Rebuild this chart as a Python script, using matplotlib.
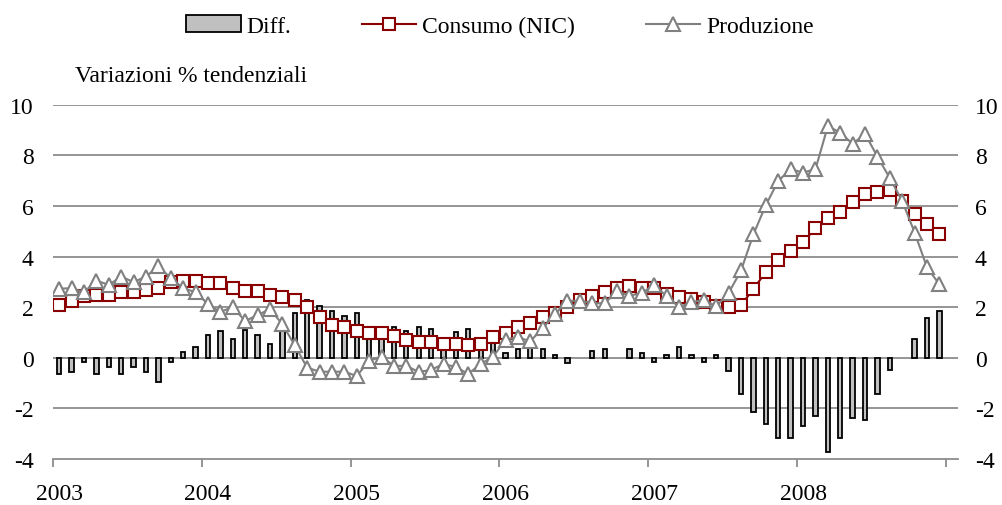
import numpy as np
import matplotlib.pyplot as plt
from matplotlib.patches import Patch
from matplotlib.lines import Line2D

plt.rcParams['font.family'] = ['Liberation Serif', 'DejaVu Serif']
plt.rcParams['axes.unicode_minus'] = False

years = ['2003', '2004', '2005', '2006', '2007', '2008']

# differenza consumo - produzione (barre)
diff = [-0.64, -0.56, -0.17, -0.64, -0.38, -0.64, -0.38, -0.56, -0.97, -0.17, 0.24, 0.41,
        0.89, 1.04, 0.74, 1.11, 0.89, 0.56, 1.04, 1.75, 2.30, 2.06, 1.84, 1.67,
        1.77, 1.08, 0.92, 1.20, 1.07, 1.23, 1.13, 0.80, 1.00, 1.13, 0.80, 0.77,
        0.18, 0.34, 0.38, 0.34, 0.12, -0.21, 0.00, 0.28, 0.34, 0.00, 0.34, 0.18,
        -0.15, 0.09, 0.41, 0.09, -0.15, 0.09, -0.54, -1.43, -2.14, -2.60, -3.17, -3.17,
        -2.70, -2.29, -3.72, -3.17, -2.37, -2.46, -1.43, -0.48, 0.00, 0.74, 1.57, 1.84]

consumo = [2.10, 2.25, 2.45, 2.50, 2.50, 2.60, 2.60, 2.67, 2.75, 3.00, 3.05, 3.05,
           2.95, 2.95, 2.75, 2.65, 2.65, 2.50, 2.40, 2.27, 2.02, 1.62, 1.28, 1.20,
           1.04, 0.96, 0.96, 0.88, 0.72, 0.64, 0.64, 0.56, 0.56, 0.50, 0.56, 0.81,
           0.96, 1.20, 1.36, 1.60, 1.76, 2.00, 2.30, 2.43, 2.60, 2.76, 2.83, 2.76,
           2.75, 2.52, 2.39, 2.32, 2.19, 2.05, 2.01, 2.08, 2.72, 3.39, 3.85, 4.23,
           4.56, 5.12, 5.52, 5.76, 6.15, 6.48, 6.56, 6.61, 6.19, 5.68, 5.29, 4.88]

produzione = [2.73, 2.75, 2.59, 3.05, 2.88, 3.21, 2.99, 3.21, 3.61, 3.15, 2.75, 2.59,
              2.12, 1.81, 2.01, 1.45, 1.69, 1.92, 1.33, 0.49, -0.39, -0.55, -0.55, -0.55,
              -0.72, -0.12, 0.04, -0.32, -0.32, -0.56, -0.48, -0.24, -0.37, -0.64, -0.24, 0.04,
              0.72, 0.81, 0.65, 1.17, 1.72, 2.25, 2.25, 2.16, 2.15, 2.64, 2.45, 2.56,
              2.88, 2.43, 2.01, 2.19, 2.29, 2.03, 2.56, 3.45, 4.88, 6.03, 6.99, 7.45,
              7.32, 7.45, 9.15, 8.90, 8.45, 8.85, 7.95, 7.10, 6.20, 4.95, 3.57, 2.90]

x = np.arange(len(consumo))
grey = '#8c8c8c'
red = '#8b0000'
tgrey = '#808080'
fs = 17

fig = plt.figure(figsize=(10.02, 5.06), dpi=100)
ax = fig.add_axes([53/1002, 1-460/506, 905/1002, (460-105.7)/506])

for yv in range(-2, 11, 2):
    ax.axhline(yv, color=grey, lw=1.3, zorder=0)

# bordo nullo per le barre a zero
bar_lw = [1.3 if v != 0 else 0 for v in diff]
ax.bar(x, diff, width=0.35, color='#c0c0c0', edgecolor='black', lw=bar_lw, zorder=2)
ax.plot(x, consumo, color=red, lw=1.5, marker='s', ms=8.5, mfc='white', mec=red, mew=1.5, zorder=3)
ax.plot(x, produzione, color=tgrey, lw=1.5, marker='^', ms=9.5, mfc='white', mec=tgrey, mew=1.5, zorder=4)

ax.set_xlim(-0.5, 72.5)
ax.set_ylim(-4, 10)
ax.set_yticks(range(-4, 11, 2))
ax.set_xticks(np.arange(-0.5, 72, 12))
ax.set_xticklabels([])
ax.set_xticks(np.arange(0, 72, 12), minor=True)
ax.set_xticklabels(years, minor=True)
ax.tick_params(axis='x', which='major', length=6, color=grey, width=1.3, direction='out')
ax.tick_params(axis='x', which='minor', length=0, pad=17, labelsize=fs)
ax.tick_params(axis='y', length=0, pad=14, labelsize=fs)

for s in ['top', 'left', 'right']:
    ax.spines[s].set_visible(False)
ax.spines['bottom'].set_color(grey)
ax.spines['bottom'].set_linewidth(1.3)

ax2 = ax.twinx()
ax2.set_ylim(-4, 10)
ax2.set_yticks(range(-4, 11, 2))
ax2.tick_params(axis='y', length=0, pad=12, labelsize=fs)
for s in ax2.spines.values():
    s.set_visible(False)

fig.text(75/1002, 1-81.5/506, 'Variazioni % tendenziali', fontsize=fs, ha='left', va='baseline')

handles = [Patch(facecolor='#c0c0c0', edgecolor='black', lw=1.3),
           Line2D([], [], color=red, lw=1.5, marker='s', ms=8.5, mfc='white', mec=red, mew=1.5),
           Line2D([], [], color=tgrey, lw=1.5, marker='^', ms=9.5, mfc='white', mec=tgrey, mew=1.5)]
fig.legend(handles, ['Diff.', 'Consumo (NIC)', 'Produzione'], loc='center',
           bbox_to_anchor=(500/1002, 1-27/506), ncol=3, frameon=False, fontsize=fs,
           handlelength=2.3, handletextpad=0.25, columnspacing=3.0)

fig.savefig('out.png', dpi=100)
